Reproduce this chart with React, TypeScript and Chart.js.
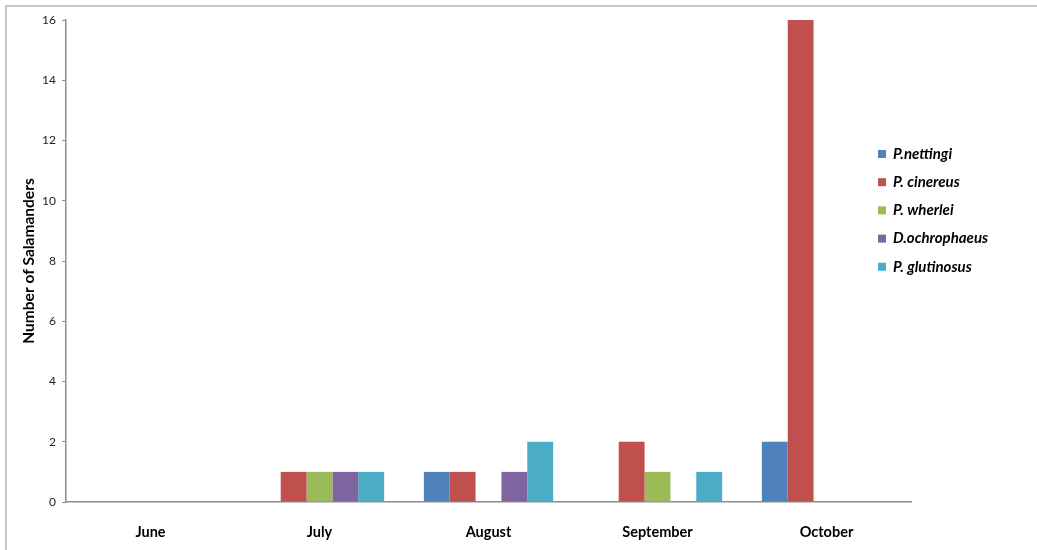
import React, { useEffect, useRef } from "react";
import { Chart, registerables } from "chart.js";

Chart.register(...registerables);

const months = ["June", "July", "August", "September", "October"];
const speciesNames = ["P.nettingi", "P. cinereus", "P. wherlei", "D.ochrophaeus", "P. glutinosus"];
const nettingi = [0, 0, 1, 0, 2];
const cinereus = [0, 1, 1, 2, 16];
const wherlei = [0, 1, 0, 1, 0];
const ochrophaeus = [0, 1, 1, 0, 0];
const glutinosus = [0, 1, 2, 1, 0];
const colors = ["#4F81BD", "#C0504D", "#9BBB59", "#8064A2", "#4BACC6"];
const yTicks = [0, 2, 4, 6, 8, 10, 12, 14, 16];

const FONT = "Lato, 'Open Sans', 'Liberation Sans', sans-serif";

export default function App() {
  const ref = useRef<HTMLCanvasElement | null>(null);

  useEffect(() => {
    if (!ref.current) return;
    const series = [nettingi, cinereus, wherlei, ochrophaeus, glutinosus];

    const frame = {
      id: "frame",
      beforeDraw(chart: any) {
        const ctx = chart.ctx;
        ctx.save();
        ctx.fillStyle = "#ffffff";
        ctx.fillRect(0, 0, chart.width, chart.height);
        ctx.strokeStyle = "#b4b4b4";
        ctx.lineWidth = 1.5;
        ctx.strokeRect(6, 6, chart.width + 20, chart.height + 20);
        ctx.restore();
      },
    };

    const legendPlugin = {
      id: "customLegend",
      afterDraw(chart: any) {
        const ctx = chart.ctx;
        ctx.save();
        chart.data.datasets.forEach((ds: any, i: number) => {
          const cy = 154 + i * 28.2;
          ctx.fillStyle = ds.backgroundColor;
          ctx.fillRect(878, cy - 4, 8, 8);
          ctx.fillStyle = "#000";
          ctx.font = `italic bold 15px ${FONT}`;
          ctx.textBaseline = "middle";
          ctx.textAlign = "left";
          ctx.fillText(ds.label, 893, cy);
        });
        ctx.restore();
      },
    };

    const chart = new Chart(ref.current, {
      type: "bar",
      data: {
        labels: months,
        datasets: series.map((d, i) => ({
          label: speciesNames[i],
          data: d,
          backgroundColor: colors[i],
          borderWidth: 0,
          categoryPercentage: 0.765,
          barPercentage: 1.0,
        })),
      },
      options: {
        animation: false,
        responsive: true,
        maintainAspectRatio: false,
        layout: { padding: { top: 20, right: 126, left: 0, bottom: 0 } },
        plugins: {
          legend: { display: false },
          tooltip: { enabled: false },
        },
        scales: {
          x: {
            grid: { display: false },
            border: { display: true, color: "#8c8c8c", width: 1.5 },
            ticks: {
              color: "#000",
              font: { family: FONT, size: 14.5, weight: "bold" },
              padding: 14,
            },
            afterFit(scale: any) {
              scale.height = 48;
            },
          },
          y: {
            min: 0,
            max: 16,
            afterBuildTicks(scale: any) {
              scale.ticks = yTicks.map((v) => ({ value: v }));
            },
            grid: {
              drawOnChartArea: false,
              drawTicks: true,
              tickLength: 4,
              color: "#8c8c8c",
            },
            border: { display: true, color: "#8c8c8c", width: 1.5 },
            ticks: {
              color: "#222",
              font: { family: FONT, size: 12 },
              padding: 6,
            },
            title: {
              display: true,
              text: "Number of Salamanders",
              color: "#000",
              font: { family: FONT, size: 15.5, weight: "bold" },
              padding: { top: 20, bottom: 0 },
            },
            afterFit(scale: any) {
              scale.width = 66;
            },
          },
        },
      },
      plugins: [frame, legendPlugin],
    });
    return () => chart.destroy();
  }, []);

  return (
    <div style={{ position: "absolute", left: 0, top: 0, width: 1037, height: 550 }}>
      <canvas ref={ref} />
    </div>
  );
}
